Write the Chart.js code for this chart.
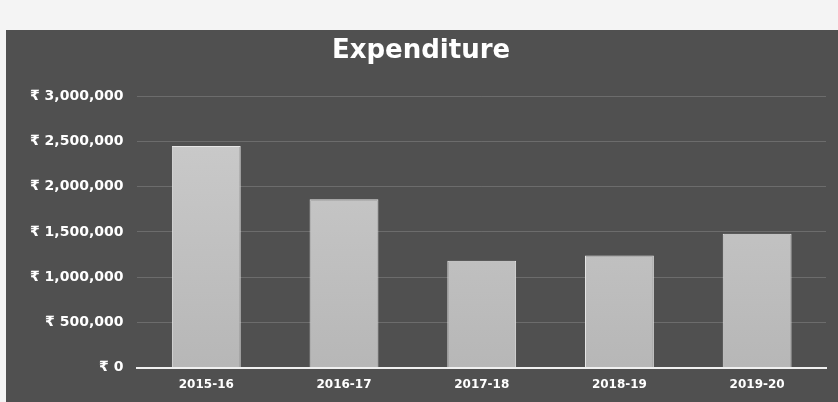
<!DOCTYPE html>
<html>
<head>
<meta charset="utf-8">
<script src="https://cdn.jsdelivr.net/npm/chart.js@4"></script>
<style>
  body { margin: 0; background: #f4f4f4; }
  #wrap { position: absolute; left: 6px; top: 30px; width: 832px; height: 372px; background: #505050; }
</style>
</head>
<body>
<div id="wrap"><canvas id="expChart"></canvas></div>
<script>
// values
const years = ["2015-16", "2016-17", "2017-18", "2018-19", "2019-20"];
const expenditure = [2450000, 1860000, 1180000, 1240000, 1480000];
const yMax = 3000000;
const yStep = 500000;

const ctx = document.getElementById("expChart").getContext("2d");
const barFill = ctx.createLinearGradient(0, 0, 0, 372);
barFill.addColorStop(0, "#d2d2d2");
barFill.addColorStop(1, "#b4b4b4");

new Chart(ctx, {
  type: "bar",
  data: {
    labels: years,
    datasets: [{
      label: "Expenditure",
      data: expenditure,
      backgroundColor: barFill,
      borderColor: "#e6e6e6",
      borderWidth: 1,
      barPercentage: 0.5,
      categoryPercentage: 1
    }]
  },
  options: {
    responsive: true,
    maintainAspectRatio: false,
    animation: false,
    layout: { padding: { left: 10, right: 12, top: 2, bottom: 8 } },
    plugins: {
      legend: { display: false },
      tooltip: { enabled: false },
      title: {
        display: true,
        text: "Expenditure",
        color: "#ffffff",
        font: { family: "DejaVu Sans", size: 26, weight: "bold" },
        padding: { top: 4, bottom: 29 }
      }
    },
    scales: {
      x: {
        grid: { display: false },
        border: { color: "#f0f0f0", width: 2 },
        ticks: { color: "#ffffff", padding: 2, font: { family: "DejaVu Sans", size: 12, weight: "bold" } }
      },
      y: {
        min: 0,
        max: yMax,
        ticks: {
          stepSize: yStep,
          color: "#ffffff",
          padding: 14,
          font: { family: "DejaVu Sans", size: 14, weight: "bold" },
          callback: v => "₹ " + v.toLocaleString("en-US")
        },
        grid: { color: "rgba(255,255,255,0.16)", drawTicks: false },
        border: { display: false }
      }
    }
  }
});
</script>
</body>
</html>
